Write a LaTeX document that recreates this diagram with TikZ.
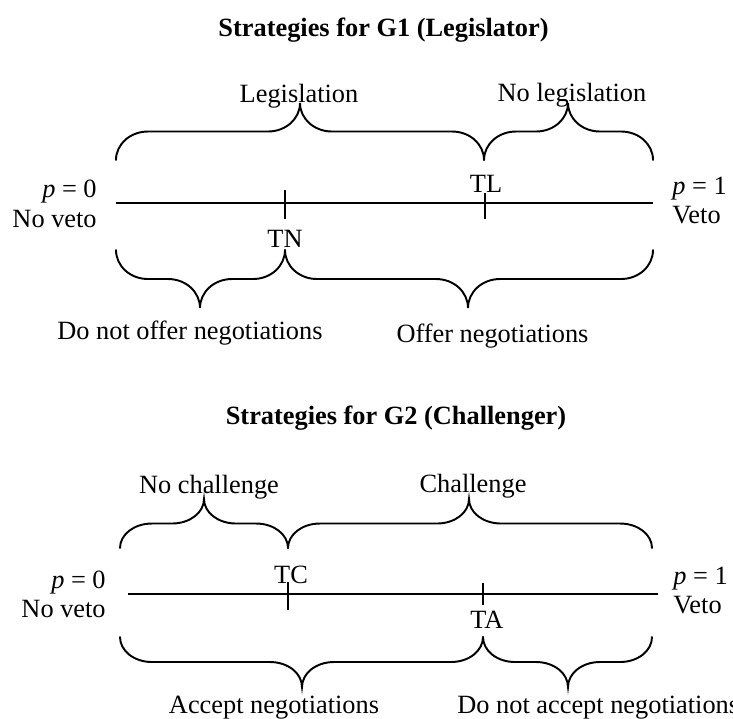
\documentclass[tikz,border=0pt]{standalone}
\usepackage{fontspec}
\setmainfont{Liberation Serif}
\usetikzlibrary{calc}
\def\curlybrace[#1](#2:#3:#4)(#5:#6){\draw[#1] (#2,#5) .. controls (#2,{#5+0.55*(#6)}) and ({#2+14},{#5+(#6)}) .. ({#2+32},{#5+(#6)}) -- ({#4-32},{#5+(#6)}) .. controls ({#4-14},{#5+(#6)}) and (#4,{#5+1.45*(#6)}) .. (#4,{#5+2*(#6)}) .. controls (#4,{#5+1.45*(#6)}) and ({#4+14},{#5+(#6)}) .. ({#4+32},{#5+(#6)}) -- ({#3-32},{#5+(#6)}) .. controls ({#3-14},{#5+(#6)}) and (#3,{#5+0.55*(#6)}) .. (#3,#5);}
\tikzset{
	lbl/.style={inner sep=0pt, anchor=base, font=\fontsize{15}{18}\selectfont},
	ttl/.style={lbl, font=\fontsize{15}{18}\selectfont\bfseries},
	axis/.style={line width=1.1pt},
	bracestyle/.style={line width=1.1pt, line cap=round}
}

\begin{document}
\begin{tikzpicture}[x=0.02cm, y=-0.02cm]
			%%%%% START %%%%%
			\useasboundingbox (0, 0) rectangle (733, 718);
			
			%%%%% G1 %%%%%
			\node[ttl] (title1) at (383.5, 36) {Strategies for G1 (Legislator)};
			
			\coordinate (ax1s) at (116, 203);
			\coordinate (ax1e) at (653, 203);
			\draw[axis] (ax1s) -- (ax1e);
			\draw[axis] (285, 190) -- (285, 219);
			\draw[axis] (485, 193) -- (485, 219);
			
			\curlybrace[bracestyle](116:484:300)(160:-28.5);
			\curlybrace[bracestyle](484:653:568)(160:-28.5);
			\curlybrace[bracestyle](116:285:200)(250:29);
			\curlybrace[bracestyle](285:653:468)(250:29);
			
			\node[lbl] (legis) at (299, 102) {Legislation};
			\node[lbl] (nolegis) at (572, 101) {No legislation};
			\node[lbl, anchor=base east] (pzero1) at (97, 197) {\textit{p} = 0};
			\node[lbl, anchor=base east] (noveto1) at (97, 227) {No veto};
			\node[lbl, anchor=base west] (pone1) at (672, 194) {\textit{p} = 1};
			\node[lbl, anchor=base west] (veto1) at (672, 223) {Veto};
			\node[lbl] (tl) at (486, 192) {TL};
			\node[lbl] (tn) at (285, 247) {TN};
			\node[lbl] (nooffer) at (190, 339) {Do not offer negotiations};
			\node[lbl] (offer) at (492.5, 342) {Offer negotiations};
			
			%%%%% G2 %%%%%
			\node[ttl] (title2) at (396, 424) {Strategies for G2 (Challenger)};
			
			\coordinate (ax2s) at (128, 594);
			\coordinate (ax2e) at (658, 594);
			\draw[axis] (ax2s) -- (ax2e);
			\draw[axis] (288, 582) -- (288, 610);
			\draw[axis] (483, 583) -- (483, 605);
			
			\curlybrace[bracestyle](120:288:204)(548:-24.5);
			\curlybrace[bracestyle](288:652:469)(548:-24.5);
			\curlybrace[bracestyle](120:483:302)(637:25);
			\curlybrace[bracestyle](483:652:568)(637:25);
			
			\node[lbl] (nochal) at (209, 493) {No challenge};
			\node[lbl] (chal) at (473, 492) {Challenge};
			\node[lbl, anchor=base east] (pzero2) at (106, 588) {\textit{p} = 0};
			\node[lbl, anchor=base east] (noveto2) at (106, 617) {No veto};
			\node[lbl, anchor=base west] (pone2) at (673, 584) {\textit{p} = 1};
			\node[lbl, anchor=base west] (veto2) at (673, 613) {Veto};
			\node[lbl] (tc) at (291, 583) {TC};
			\node[lbl] (ta) at (487, 628) {TA};
			\node[lbl] (accept) at (274, 713) {Accept negotiations};
			\node[lbl, anchor=base west] (noaccept) at (457, 713) {Do not accept negotiations};
			
			%%%%% END %%%%%
\end{tikzpicture}
\end{document}
